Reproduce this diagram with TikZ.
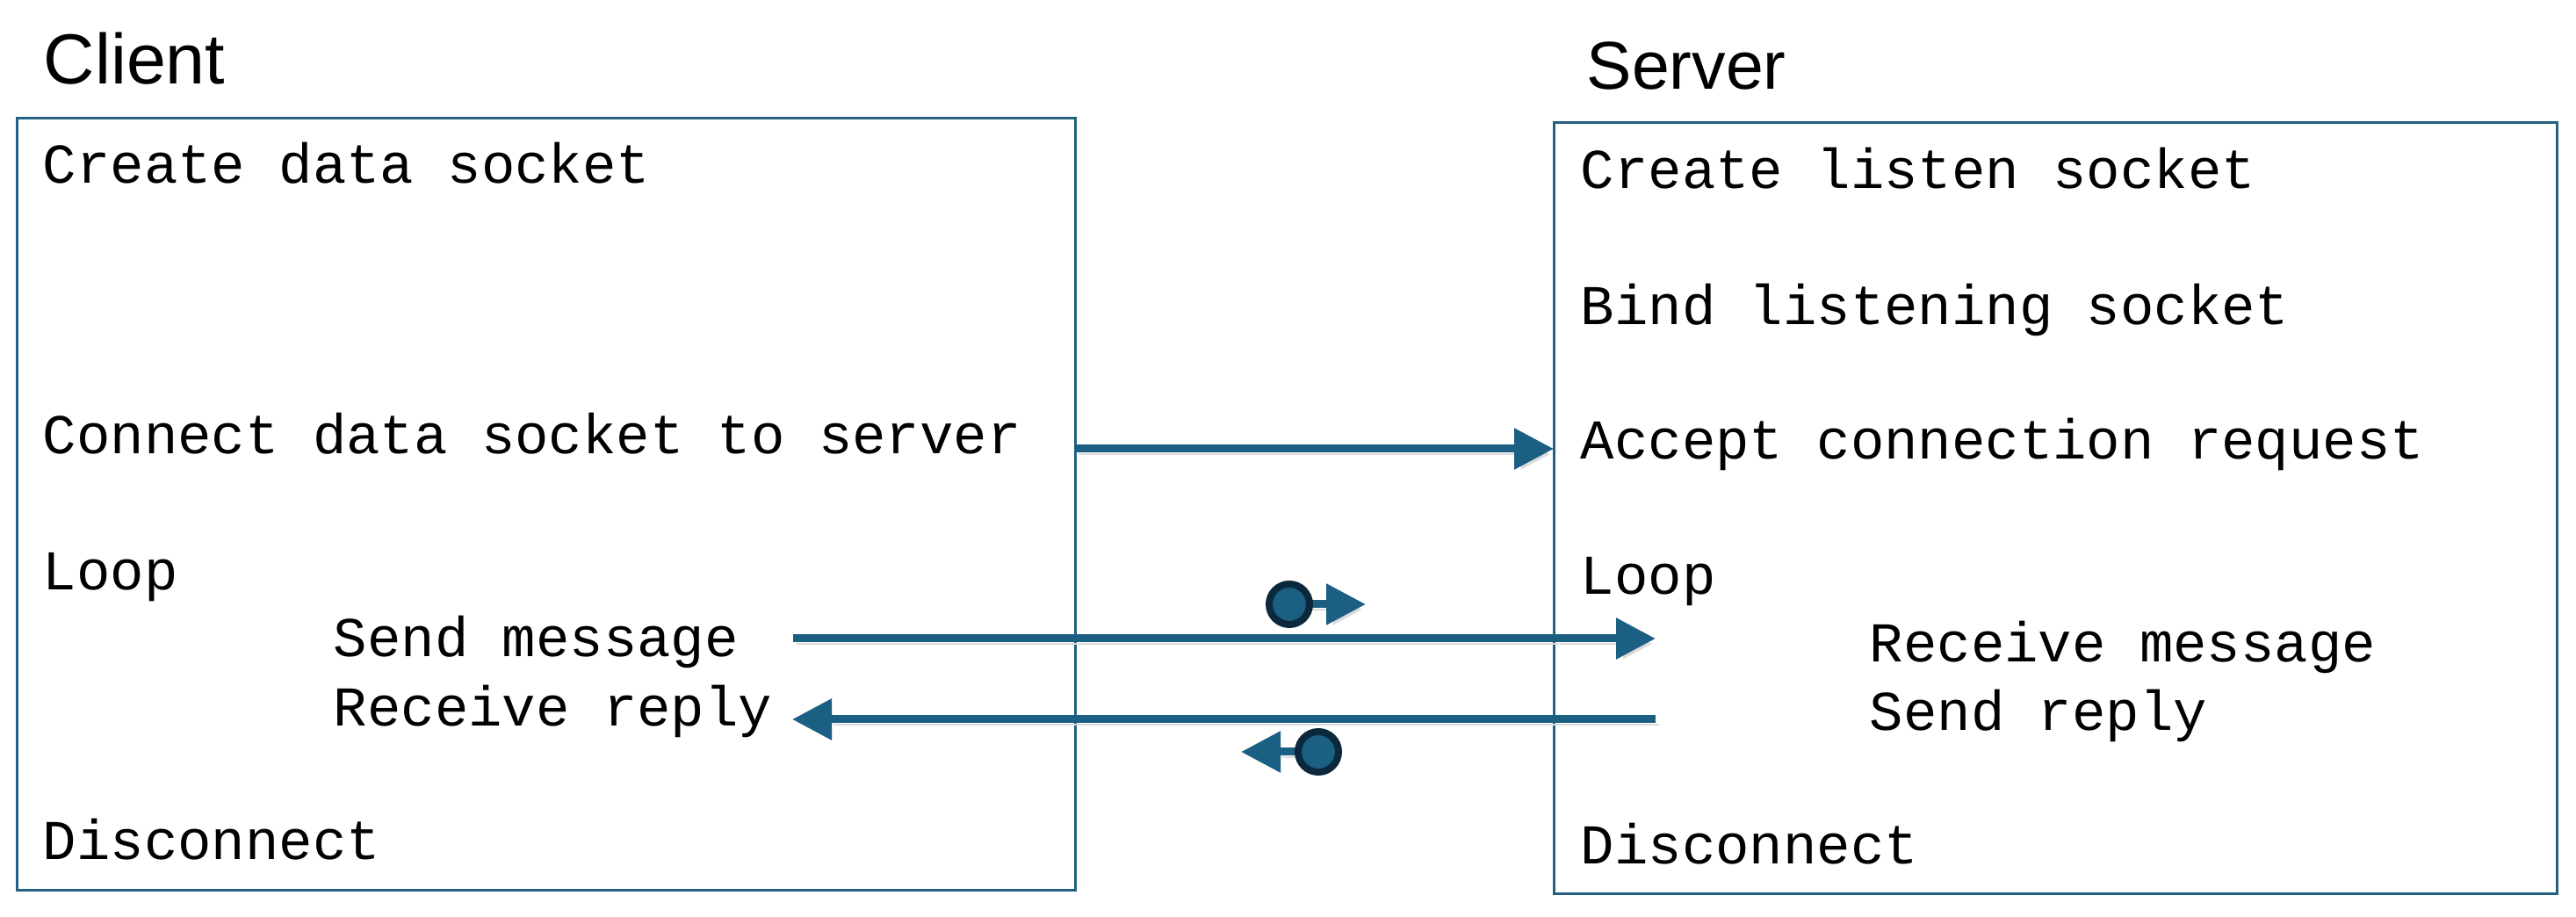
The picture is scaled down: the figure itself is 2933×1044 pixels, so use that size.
\documentclass[tikz,border=0pt]{standalone}
\usepackage{fontspec}
\setmainfont{Liberation Sans}
\setsansfont{Liberation Sans}
\setmonofont{Liberation Mono}
\usepackage{xcolor}
\usepackage{tikz}
\usetikzlibrary{arrows.meta}
\usetikzlibrary{positioning}
\usetikzlibrary{calc}
\definecolor{linkblue}{RGB}{27,95,131}
\definecolor{boxblue}{RGB}{36,96,128}
\definecolor{ringdark}{RGB}{11,40,60}

\begin{document}
\begin{tikzpicture}[x=0.25pt, y=-0.25pt,
  box/.style={draw=boxblue, line width=0.75pt, rectangle, inner sep=0pt, outer sep=0pt, anchor=north west},
  head/.style={anchor=base west, inner sep=0pt, font=\sffamily\fontsize{19.25}{23}\selectfont},
  code/.style={anchor=base west, inner sep=0pt, font=\ttfamily\fontsize{16}{19}\selectfont},
  flow/.style={draw=linkblue, line width=2.25pt, -{Triangle[length=11.25pt, width=11.25pt]},
    preaction={draw=black!14, transform canvas={xshift=1pt, yshift=-1.5pt}}},
  token/.style={circle, draw=ringdark, fill=linkblue, line width=2pt, minimum size=11.5pt, inner sep=0pt}]
  \useasboundingbox (0,0) rectangle (2933,1044);
  \node[head, font=\sffamily\fontsize{20.2}{24}\selectfont] (clienthead) at (49,96) {Client};
  \node[head] (serverhead) at (1806,102) {Server};
  \node[box, minimum width=301.25pt, minimum height=219.75pt] (client) at (19,135) {};
  \node[box, minimum width=285.5pt, minimum height=219.5pt] (server) at (1769,140) {};
  \node[code] (c_create) at (48,209) {Create data socket};
  \node[code] (c_connect) at (48,517) {Connect data socket to server};
  \node[code] (c_loop) at (48,672) {Loop};
  \node[code] (c_send) at (379,748) {Send message};
  \node[code] (c_recv) at (379,827) {Receive reply};
  \node[code] (c_disc) at (48,979) {Disconnect};
  \node[code] (s_create) at (1799,215) {Create listen socket};
  \node[code] (s_bind) at (1799,370) {Bind listening socket};
  \node[code] (s_accept) at (1799,523) {Accept connection request};
  \node[code] (s_loop) at (1799,677) {Loop};
  \node[code] (s_recv) at (2128,754) {Receive message};
  \node[code] (s_send) at (2128,832) {Send reply};
  \node[code] (s_disc) at (1799,984) {Disconnect};
  \coordinate (conn) at (0,511);
  \coordinate (sendfrom) at (903,727);
  \coordinate (sendto) at (1885,727);
  \coordinate (replyfrom) at (1885,819);
  \coordinate (replyto) at (902,819);
  \coordinate (msgpos) at (1468,688);
  \coordinate (msgtip) at (1555,688);
  \coordinate (replypos) at (1501,856);
  \coordinate (replytip) at (1413,856);
  \draw[flow] (client.east |- conn) -- (server.west |- conn);
  \draw[flow] (sendfrom) -- (sendto);
  \draw[flow] (replyfrom) -- (replyto);
  \draw[flow] (msgpos) -- (msgtip);
  \draw[flow] (replypos) -- (replytip);
  \node[token] (msgdot) at (msgpos) {};
  \node[token] (replydot) at (replypos) {};
\end{tikzpicture}
\end{document}
